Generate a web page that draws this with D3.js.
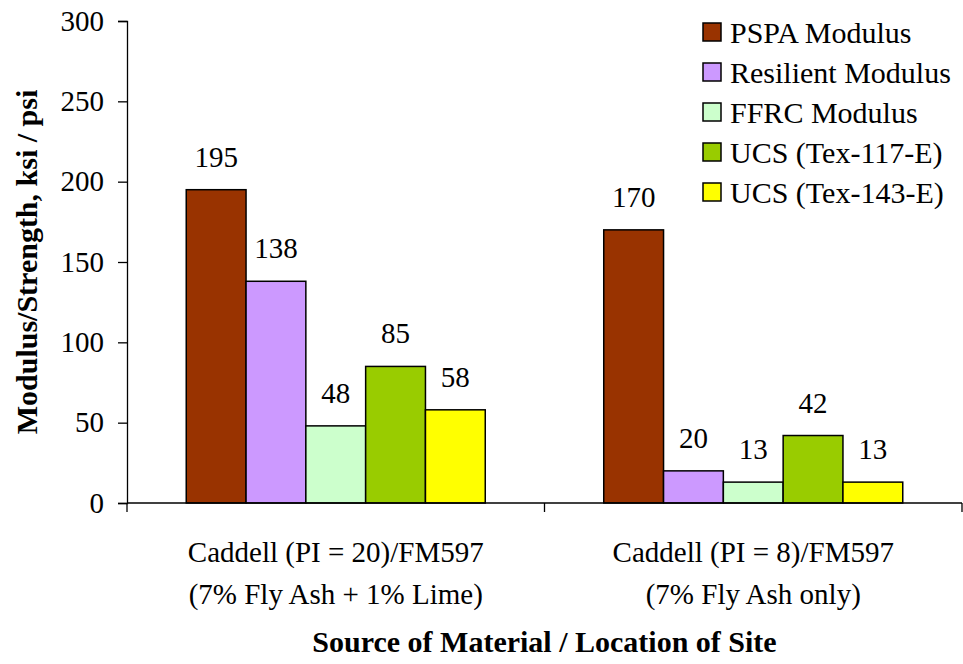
<!DOCTYPE html>
<html>
<head>
<meta charset="utf-8">
<script src="https://cdnjs.cloudflare.com/ajax/libs/d3/7.8.5/d3.min.js"></script>
<style>
  body { margin: 0; background: #fff; }
  text { font-family: "Liberation Serif", "Times New Roman", serif; fill: #000; }
</style>
</head>
<body>
<div id="chart"></div>
<script>
const categories = [
    ["Caddell (PI = 20)/FM597", "(7% Fly Ash + 1% Lime)"],
    ["Caddell (PI = 8)/FM597", "(7% Fly Ash only)"]
];
const seriesNames = ["PSPA Modulus", "Resilient Modulus", "FFRC Modulus", "UCS (Tex-117-E)", "UCS (Tex-143-E)"];
const seriesColors = ["#993300", "#cc99ff", "#ccffcc", "#99cc00", "#ffff00"];
const pspaValues = [195, 170];
const resilientValues = [138, 20];
const ffrcValues = [48, 13];
const ucs117Values = [85, 42];
const ucs143Values = [58, 13];
const yTicks = [0, 50, 100, 150, 200, 250, 300];

const width = 963;
const height = 664;
const margin = { left: 127, right: 1, top: 21, bottom: 161 };

const svg = d3.select('#chart')
    .append('svg')
    .attr('width', width)
    .attr('height', height);

const allSeries = [pspaValues, resilientValues, ffrcValues, ucs117Values, ucs143Values];
const rows = categories.map((c, i) => ({
    key: i,
    label: c,
    values: allSeries.map((s, j) => ({ series: j, value: s[i] }))
}));

const pad = 0.2838;
const x0 = d3.scaleBand()
    .domain(rows.map(d => d.key))
    .range([margin.left, width - margin.right])
    .paddingInner(pad)
    .paddingOuter(pad / 2);

const x1 = d3.scaleBand()
    .domain(d3.range(seriesNames.length))
    .range([0, x0.bandwidth()]);

const y = d3.scaleLinear()
    .domain([0, 300])
    .range([height - margin.bottom, margin.top]);

// y axis
const yAxis = d3.axisLeft(y)
    .tickValues(yTicks)
    .tickSize(9)
    .tickPadding(14);

const yg = svg.append('g')
    .attr('transform', `translate(${margin.left}, 0)`)
    .call(yAxis);
yg.select('.domain').attr('stroke', '#000').attr('stroke-width', 1.3);
yg.selectAll('.tick line').attr('stroke', '#000').attr('stroke-width', 1.3);
yg.selectAll('.tick text')
    .style('font-family', '"Liberation Serif", "Times New Roman", serif')
    .style('font-size', '29px')
    .attr('fill', '#000');

// bars
const groups = svg.selectAll('.group')
    .data(rows)
    .enter()
    .append('g')
    .attr('class', 'group')
    .attr('transform', d => `translate(${x0(d.key)}, 0)`);

groups.selectAll('rect')
    .data(d => d.values)
    .enter()
    .append('rect')
    .attr('x', d => x1(d.series))
    .attr('y', d => y(d.value))
    .attr('width', x1.bandwidth())
    .attr('height', d => y(0) - y(d.value))
    .attr('fill', d => seriesColors[d.series])
    .attr('stroke', '#000')
    .attr('stroke-width', 1.5);

groups.selectAll('.value')
    .data(d => d.values)
    .enter()
    .append('text')
    .attr('class', 'value')
    .attr('x', d => x1(d.series) + x1.bandwidth() / 2)
    .attr('y', d => y(d.value) - 23)
    .attr('text-anchor', 'middle')
    .style('font-size', '29px')
    .text(d => d.value);

// x axis line and ticks at band boundaries
const step = x0.step();
const xStart = x0.range()[0];
svg.append('line')
    .attr('x1', xStart)
    .attr('x2', x0.range()[1])
    .attr('y1', y(0))
    .attr('y2', y(0))
    .attr('stroke', '#000')
    .attr('stroke-width', 1.3);

svg.selectAll('.xtick')
    .data(d3.range(categories.length + 1))
    .enter()
    .append('line')
    .attr('class', 'xtick')
    .attr('x1', i => xStart + i * step)
    .attr('x2', i => xStart + i * step)
    .attr('y1', y(0))
    .attr('y2', y(0) + 9)
    .attr('stroke', '#000')
    .attr('stroke-width', 1.3);

// category labels
const catLabels = svg.selectAll('.cat')
    .data(rows)
    .enter()
    .append('text')
    .attr('class', 'cat')
    .attr('text-anchor', 'middle')
    .style('font-size', '29px');

catLabels.append('tspan')
    .attr('x', d => x0(d.key) + x0.bandwidth() / 2)
    .attr('y', 562)
    .text(d => d.label[0]);
catLabels.append('tspan')
    .attr('x', d => x0(d.key) + x0.bandwidth() / 2)
    .attr('y', 604)
    .text(d => d.label[1]);

// axis titles
svg.append('text')
    .attr('x', (x0.range()[0] + x0.range()[1]) / 2)
    .attr('y', 652)
    .attr('text-anchor', 'middle')
    .style('font-size', '30px')
    .style('font-weight', 'bold')
    .text('Source of Material / Location of Site');

svg.append('text')
    .attr('transform', `translate(37, ${(y(0) + y(300)) / 2}) rotate(-90)`)
    .attr('text-anchor', 'middle')
    .style('font-size', '30px')
    .style('font-weight', 'bold')
    .text('Modulus/Strength, ksi / psi');

// legend
const legend = svg.append('g')
    .attr('transform', 'translate(703, 32)');

const items = legend.selectAll('.item')
    .data(seriesNames)
    .enter()
    .append('g')
    .attr('class', 'item')
    .attr('transform', (d, i) => `translate(0, ${i * 40})`);

items.append('rect')
    .attr('x', 0)
    .attr('y', -9)
    .attr('width', 18)
    .attr('height', 18)
    .attr('fill', (d, i) => seriesColors[i])
    .attr('stroke', '#000')
    .attr('stroke-width', 1.5);

items.append('text')
    .attr('x', 27)
    .attr('y', 0)
    .attr('dy', '0.35em')
    .style('font-size', '30px')
    .text(d => d);
</script>
</body>
</html>
